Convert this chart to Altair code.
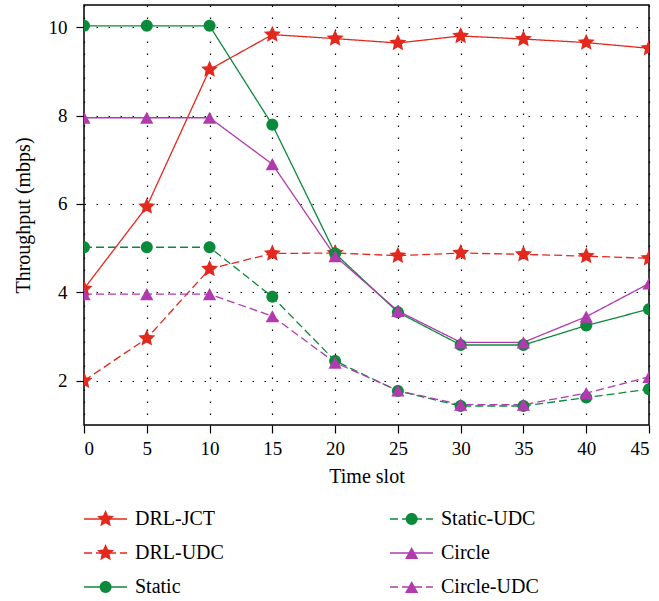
import math
import altair as alt
import pandas as pd

# ---------------- data ----------------
time_slots = [0, 5, 10, 15, 20, 25, 30, 35, 40, 45]
series_names = ["DRL-JCT", "DRL-UDC", "Static", "Static-UDC", "Circle", "Circle-UDC"]
drl_jct = [4.08, 5.94, 9.04, 9.83, 9.74, 9.64, 9.80, 9.73, 9.65, 9.52]
drl_udc = [2.00, 2.96, 4.53, 4.88, 4.89, 4.83, 4.89, 4.86, 4.82, 4.77]
static = [10.03, 10.03, 10.03, 7.79, 4.88, 3.55, 2.81, 2.81, 3.25, 3.62]
static_udc = [5.02, 5.02, 5.02, 3.90, 2.45, 1.77, 1.43, 1.43, 1.62, 1.81]
circle = [7.95, 7.95, 7.95, 6.90, 4.82, 3.58, 2.87, 2.87, 3.45, 4.20]
circle_udc = [3.96, 3.96, 3.96, 3.46, 2.41, 1.78, 1.46, 1.46, 1.72, 2.09]
y_ticks = [2, 4, 6, 8, 10]

values = [drl_jct, drl_udc, static, static_udc, circle, circle_udc]
rows = []
for name, vals in zip(series_names, values):
    for t, v in zip(time_slots, vals):
        rows.append({"t": t, "v": v, "series": name, "series2": name})
df = pd.DataFrame(rows)

# ---------------- styles ----------------
RED, GREEN, PURPLE = "#e3281e", "#0b8a3b", "#b03aae"
style = {
    "DRL-JCT": (RED, [1, 0], "star"),
    "DRL-UDC": (RED, [8, 4], "star"),
    "Static": (GREEN, [1, 0], "circle"),
    "Static-UDC": (GREEN, [8, 4], "circle"),
    "Circle": (PURPLE, [1, 0], "tri"),
    "Circle-UDC": (PURPLE, [8, 4], "tri"),
}

def star_path(R=1.0, ratio=0.47):
    pts = []
    for k in range(10):
        ang = -math.pi / 2 + k * math.pi / 5
        r = R if k % 2 == 0 else R * ratio
        pts.append((r * math.cos(ang), r * math.sin(ang)))
    return "M" + "L".join(f"{x:.3f},{y:.3f}" for x, y in pts) + "Z"

cr = 0.67
paths = {
    "star": star_path(),
    "circle": f"M{cr},0A{cr},{cr},0,1,1,{-cr},0A{cr},{cr},0,1,1,{cr},0Z",
    "tri": "M0,-0.68L0.74,0.68L-0.74,0.68Z",
}

col_range = [style[s][0] for s in series_names]
dash_range = [style[s][1] for s in series_names]
shape_range = [paths[style[s][2]] for s in series_names]

FONT = "Liberation Serif"

common_leg = dict(
    orient="none", legendY=504, columns=2, rowPadding=14,
    clipHeight=20, title=None, padding=0, labelFont=FONT, labelFontSize=20,
    labelColor="black", labelLimit=0,
)

# line part of the legend (carries the visible labels)
line_legend = alt.Legend(
    legendX=-1, symbolType="stroke", symbolSize=1849, symbolStrokeWidth=1.4,
    labelOffset=7, columnPadding=165, **common_leg,
)
# marker part of the legend, laid over the centre of each line sample
point_legend = alt.Legend(
    legendX=11.56, symbolSize=320, symbolStrokeWidth=0, symbolOpacity=1,
    labelOffset=0, labelExpr="''", columnPadding=286.1, **common_leg,
)

x_enc = alt.X(
    "t:Q",
    scale=alt.Scale(domain=[0, 45], nice=False, zero=False),
    axis=alt.Axis(values=time_slots, title="Time slot", labelPadding=6, titlePadding=8),
)
y_enc = alt.Y(
    "v:Q",
    scale=alt.Scale(domain=[1, 10.5], nice=False, zero=False),
    axis=alt.Axis(values=y_ticks, title="Throughput (mbps)", labelPadding=9, titlePadding=15),
)

base = alt.Chart(df)

lines = base.mark_line(strokeWidth=1.3, clip=True).encode(
    x=x_enc,
    y=y_enc,
    color=alt.Color("series:N", scale=alt.Scale(domain=series_names, range=col_range), legend=line_legend),
    strokeDash=alt.StrokeDash("series:N", scale=alt.Scale(domain=series_names, range=dash_range), legend=line_legend),
)

points = base.mark_point(filled=True, size=320, opacity=1, strokeWidth=0, clip=True).encode(
    x=x_enc,
    y=y_enc,
    color=alt.Color("series2:N", scale=alt.Scale(domain=series_names, range=col_range), legend=point_legend),
    shape=alt.Shape("series2:N", scale=alt.Scale(domain=series_names, range=shape_range), legend=point_legend),
)

chart = (
    alt.layer(lines, points)
    .resolve_scale(color="independent", shape="independent", strokeDash="independent")
    .resolve_legend(color="independent", shape="independent", strokeDash="independent")
    .properties(
        width=565, height=420,
        autosize=alt.AutoSizeParams(type="none"),
        padding={"left": 84, "top": 5, "right": 10, "bottom": 176},
        background="white",
    )
    .configure_view(stroke="black", strokeWidth=1.5)
    .configure_axis(
        labelFont=FONT, labelFontSize=19, labelColor="black",
        titleFont=FONT, titleFontSize=20, titleFontWeight="normal", titleColor="black",
        tickColor="black", tickSize=8, tickWidth=1.2, domain=False,
        grid=True, gridColor="black", gridDash=[1.5, 10.5], gridWidth=1.2, gridOpacity=1,
    )
)

chart.save("out.html", embed_options={"renderer": "svg", "actions": False})
